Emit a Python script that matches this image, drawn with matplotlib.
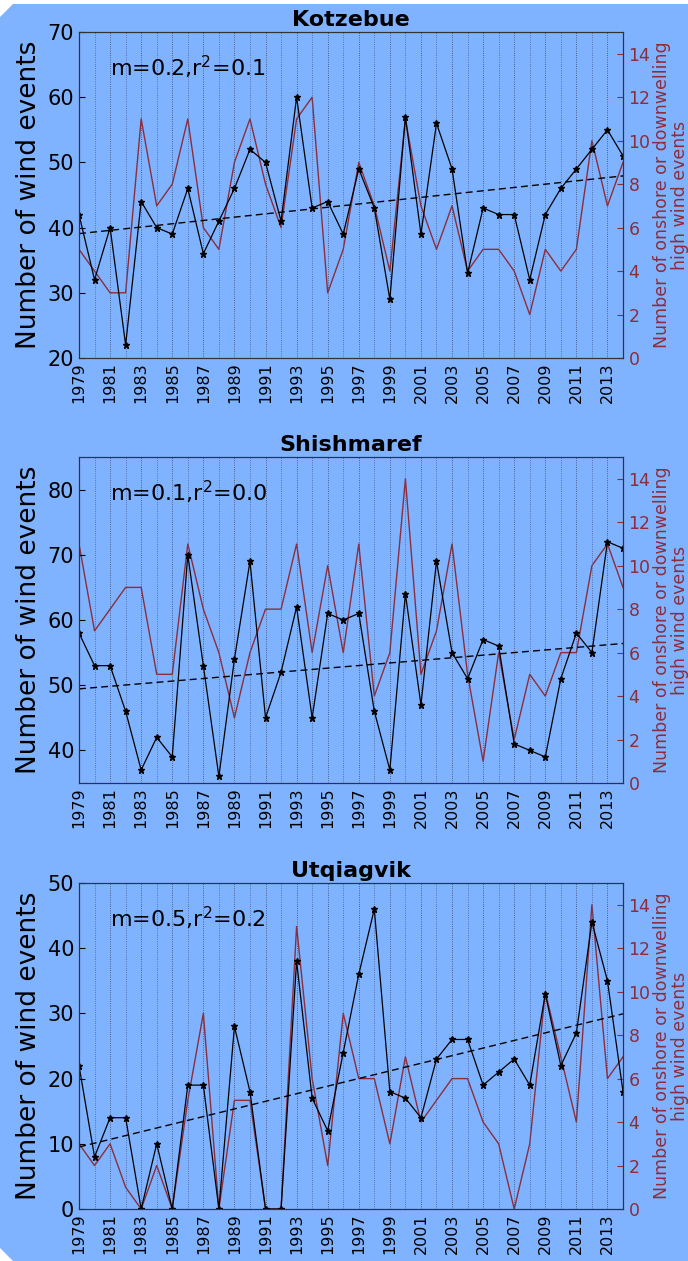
import numpy as np
import matplotlib
matplotlib.use("Agg")
import matplotlib.pyplot as plt
from matplotlib.patches import Polygon
from matplotlib.ticker import MultipleLocator

years = list(range(1979, 2015))

stations = ["Kotzebue", "Shishmaref", "Utqiagvik"]

kotzebue_all = [42, 32, 40, 22, 44, 40, 39, 46, 36, 41, 46, 52, 50, 41, 60, 43, 44, 39,
                49, 43, 29, 57, 39, 56, 49, 33, 43, 42, 42, 32, 42, 46, 49, 52, 55, 51]
kotzebue_onshore = [5, 4, 3, 3, 11, 7, 8, 11, 6, 5, 9, 11, 8, 6, 11, 12, 3, 5,
                    9, 7, 4, 11, 7, 5, 7, 4, 5, 5, 4, 2, 5, 4, 5, 10, 7, 9]

shishmaref_all = [58, 53, 53, 46, 37, 42, 39, 70, 53, 36, 54, 69, 45, 52, 62, 45, 61, 60,
                  61, 46, 37, 64, 47, 69, 55, 51, 57, 56, 41, 40, 39, 51, 58, 55, 72, 71]
shishmaref_onshore = [11, 7, 8, 9, 9, 5, 5, 11, 8, 6, 3, 6, 8, 8, 11, 6, 10, 6,
                      11, 4, 6, 14, 5, 7, 11, 5, 1, 6, 2, 5, 4, 6, 6, 10, 11, 9]

utqiagvik_all = [22, 8, 14, 14, 0, 10, 0, 19, 19, 0, 28, 18, 0, 0, 38, 17, 12, 24,
                 36, 46, 18, 17, 14, 23, 26, 26, 19, 21, 23, 19, 33, 22, 27, 44, 35, 18]
utqiagvik_onshore = [3, 2, 3, 1, 0, 2, 0, 5, 9, 0, 5, 5, 0, 0, 13, 6, 2, 9,
                     6, 6, 3, 7, 4, 5, 6, 6, 4, 3, 0, 3, 10, 7, 4, 14, 6, 7]

stats_labels = [r"m=0.2,r$^2$=0.1", r"m=0.1,r$^2$=0.0", r"m=0.5,r$^2$=0.2"]
left_limits = [(20, 70), (35, 85), (0, 50)]
left_ticks = [range(20, 71, 10), range(40, 81, 10), range(0, 51, 10)]

all_events = [kotzebue_all, shishmaref_all, utqiagvik_all]
onshore_events = [kotzebue_onshore, shishmaref_onshore, utqiagvik_onshore]

bg = "#80b3ff"
red = "#8c2d3c"

fig = plt.figure(figsize=(6.88, 12.61), dpi=100)
fig.patch.set_facecolor("white")

# chamfered blue background
W, H = 688.0, 1261.0
pts = [(0, 17), (13, 4), (688, 4), (688, 1261), (13, 1261), (0, 1248)]
fig.patches.append(Polygon([(x / W, 1 - y / H) for x, y in pts], closed=True,
                           transform=fig.transFigure, facecolor=bg, edgecolor="none",
                           zorder=-10))

# axes boxes in pixels: top, bottom
boxes = [(32, 358), (457, 783), (883, 1209)]
left_px, right_px = 79, 623

for i, name in enumerate(stations):
    top, bot = boxes[i]
    ax = fig.add_axes([left_px / W, 1 - bot / H, (right_px - left_px) / W, (bot - top) / H])
    ax2 = ax.twinx()
    ax.set_zorder(2)
    ax2.set_zorder(1)
    ax.patch.set_visible(False)
    ax2.patch.set_visible(False)

    yrs = np.array(years)
    vals = np.array(all_events[i])

    ax2.plot(yrs, onshore_events[i], color=red, lw=1.0)
    ax.plot(yrs, vals, color="black", lw=0.9, marker="*", markersize=5)

    m, b = np.polyfit(yrs, vals, 1)
    ax.plot(yrs, m * yrs + b, color="black", lw=1.0, ls="--", dashes=(5, 3))

    ax.set_xlim(1979, 2014)
    ax.set_ylim(*left_limits[i])
    ax.set_yticks(list(left_ticks[i]))
    ax2.set_ylim(0, 15)
    ax2.set_yticks(range(0, 15, 2))

    ax.set_xticks(range(1979, 2014, 2))
    ax.xaxis.set_minor_locator(MultipleLocator(1))
    ax.set_xticklabels([str(y) for y in range(1979, 2014, 2)], rotation=90, fontsize=11.5)
    ax.grid(axis="x", which="major", color="#3a4468", ls=":", lw=0.6)
    ax.grid(axis="x", which="minor", color="#4a5a90", ls=":", lw=0.6)

    ax.tick_params(axis="y", direction="in", labelsize=15, length=4)
    ax.tick_params(axis="x", which="both", direction="in", length=0, pad=3)
    ax2.tick_params(axis="y", direction="in", labelsize=12.5, labelcolor=red, color=red,
                    length=4, pad=4)

    for sp in ax.spines.values():
        sp.set_color("#333333")
    for sp in ax2.spines.values():
        sp.set_color("#333333")

    ax.set_ylabel("Number of wind events", fontsize=19, labelpad=4)
    ax2.set_ylabel("Number of onshore or downwelling\nhigh wind events", fontsize=12.5,
                   color=red, linespacing=1.0, labelpad=2)

    ax.set_title(name, fontsize=16, fontweight="bold", pad=4)
    ax.text(0.057, 0.89, stats_labels[i], transform=ax.transAxes, fontsize=16,
            ha="left", va="center")

fig.savefig("out.png", dpi=100, facecolor=fig.get_facecolor())
